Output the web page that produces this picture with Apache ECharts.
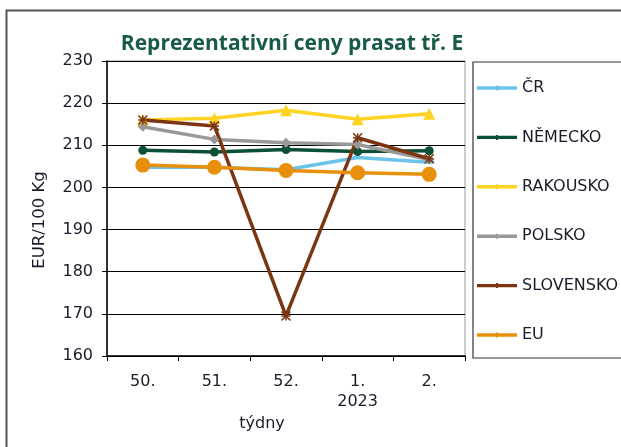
<!DOCTYPE html>
<html><head><meta charset="utf-8">
<script src="https://cdn.jsdelivr.net/npm/echarts@6/dist/echarts.min.js"></script>
<style>html,body{margin:0;padding:0;background:#fff}#c{width:621px;height:447px}</style>
</head><body><div id="c"></div>
<script>
var categories = ['50.', '51.', '52.', '1.\n2023', '2.'];
var yTicks = [160, 170, 180, 190, 200, 210, 220, 230];
var seriesNames = ['ČR', 'NĚMECKO', 'RAKOUSKO', 'POLSKO', 'SLOVENSKO', 'EU'];
var cr = [204.8, 204.8, 204.2, 207.1, 206.0];
var nemecko = [208.8, 208.4, 209.0, 208.5, 208.7];
var rakousko = [216.0, 216.4, 218.3, 216.2, 217.5];
var polsko = [214.4, 211.4, 210.6, 210.2, 206.6];
var slovensko = [216.0, 214.6, 169.5, 211.8, 206.8];
var eu = [205.3, 204.8, 204.0, 203.5, 203.1];

var colors = ['#6cc3ea', '#0b4f36', '#ffd322', '#999999', '#7b3511', '#e8900c'];
var chart = echarts.init(document.getElementById('c'));
var F = 'DejaVu Sans';
var star = 'path://M0,0L10,10M10,0L0,10M5,0L5,10M0,5L10,5';
var legIcon = 'path://M0,0M0,6.3H40V9.7H0ZM19,5.5H21V10.5H19ZM40,16';
function mk(name, data, color, symbol, size, extra) {
  var s = {
    name: name, type: 'line', data: data, symbol: symbol, symbolSize: size,
    showSymbol: true, animation: false,
    lineStyle: { color: color, width: 3.5 },
    itemStyle: { color: color, borderColor: color, borderWidth: 0 }
  };
  if (extra) Object.assign(s.itemStyle, extra);
  return s;
}
chart.setOption({
  animation: false,
  title: {
    text: 'Reprezentativní ceny prasat tř. E', left: 287, top: 29, textAlign: 'center',
    textStyle: { fontFamily: 'Open Sans', fontWeight: 'bold', fontSize: 21, color: '#17594a' }
  },
  grid: { left: 107, right: 156, top: 61, bottom: 91, show: true, borderColor: '#999', borderWidth: 1 },
  legend: {
    orient: 'vertical', left: 477, top: 80, padding: 0, itemWidth: 40, itemHeight: 16, itemGap: 33.4,
    data: seriesNames.map(function (n, i) {
      return { name: n, icon: legIcon, itemStyle: { color: colors[i], borderWidth: 0 } };
    }),
    textStyle: { fontFamily: F, fontSize: 16, color: '#1a1a2a' }
  },
  xAxis: {
    type: 'category', data: categories, boundaryGap: true,
    axisLine: { lineStyle: { color: '#000', width: 1.5 } },
    axisTick: { show: true, length: 5, lineStyle: { color: '#000' } },
    axisLabel: { margin: 16, fontFamily: F, fontSize: 16, color: '#1a1a2a', lineHeight: 20 },
    splitLine: { show: false }
  },
  yAxis: {
    type: 'value', min: 160, max: 230, interval: 10,
    axisLine: { show: true, lineStyle: { color: '#000', width: 1.5 } },
    axisTick: { show: true, length: 5, lineStyle: { color: '#000' } },
    axisLabel: { margin: 14, fontFamily: F, fontSize: 16, color: '#1a1a2a' },
    splitLine: { lineStyle: { color: '#000', width: 1.2 } }
  },
  graphic: [
    { type: 'rect', shape: { x: 6.5, y: 10.5, width: 700, height: 500 }, style: { fill: 'none', stroke: '#555', lineWidth: 2 }, z: 0 },
    { type: 'rect', shape: { x: 473, y: 62, width: 300, height: 296 }, style: { fill: 'none', stroke: '#333', lineWidth: 1.2 }, z: 0 },
    { type: 'text', x: 40, y: 220, rotation: Math.PI / 2, style: { text: 'EUR/100 Kg', fontFamily: F, fontSize: 16.5, fill: '#1a1a2a', align: 'center', verticalAlign: 'middle' } },
    { type: 'text', x: 262, y: 424, style: { text: 'týdny', fontFamily: F, fontSize: 16, fill: '#1a1a2a', align: 'center', verticalAlign: 'middle' } }
  ],
  series: [
    mk('ČR', cr, colors[0], 'rect', [10, 3]),
    mk('NĚMECKO', nemecko, colors[1], 'circle', 9),
    mk('RAKOUSKO', rakousko, colors[2], 'triangle', 12),
    mk('POLSKO', polsko, colors[3], 'diamond', 10),
    mk('SLOVENSKO', slovensko, colors[4], star, 9, { borderWidth: 1.5, color: 'none' }),
    mk('EU', eu, colors[5], 'circle', 15)
  ]
});
</script></body></html>
